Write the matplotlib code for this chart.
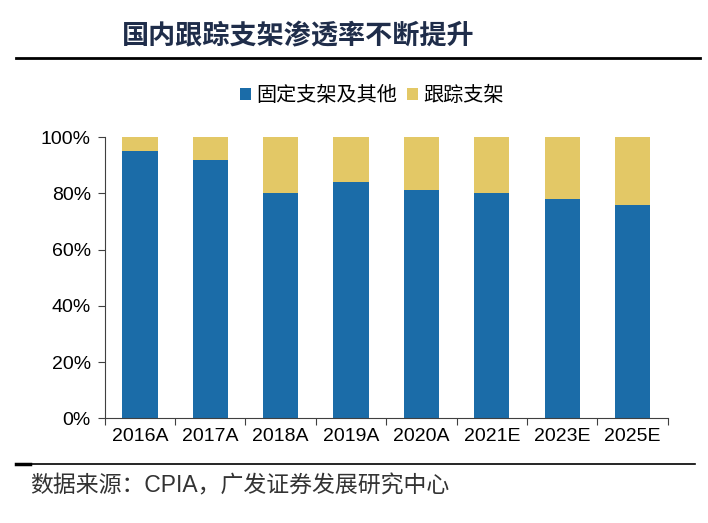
import matplotlib.pyplot as plt
import matplotlib.lines as mlines
from matplotlib.ticker import FuncFormatter

plt.rcParams['font.family'] = ['Liberation Sans', 'Noto Sans CJK SC', 'DejaVu Sans']

years = ['2016A', '2017A', '2018A', '2019A', '2020A', '2021E', '2023E', '2025E']
fixed_share = [0.95, 0.92, 0.80, 0.84, 0.81, 0.80, 0.78, 0.76]   # 固定支架及其他
tracking_share = [1 - v for v in fixed_share]                   # 跟踪支架

blue = '#1B6CA8'
yellow = '#E3C866'
fams = ['Liberation Sans', 'Noto Sans CJK SC', 'DejaVu Sans']

fig = plt.figure(figsize=(7.08, 5.23), dpi=100)
ax = fig.add_axes([0.148, 0.2, 0.795, 0.538])

x = range(len(years))
ax.bar(x, fixed_share, width=0.5, color=blue, label='固定支架及其他')
ax.bar(x, tracking_share, width=0.5, bottom=fixed_share, color=yellow, label='跟踪支架')

ax.set_ylim(0, 1)
ax.set_xlim(-0.5, len(years) - 0.5)
ax.set_yticks([0, 0.2, 0.4, 0.6, 0.8, 1.0])
ax.yaxis.set_major_formatter(FuncFormatter(lambda v, p: f'{v*100:.0f}%'))

# category labels centred, tick marks on the boundaries
ax.set_xticks([i - 0.5 for i in range(len(years) + 1)])
ax.set_xticklabels([])
ax.set_xticks(list(x), minor=True)
ax.set_xticklabels(years, minor=True)
ax.tick_params(axis='x', which='minor', length=0, labelsize=14, pad=7)
ax.tick_params(axis='x', which='major', length=5, color='#404040')
ax.tick_params(axis='y', length=5, labelsize=14, color='#404040', pad=5)

for s in ['top', 'right']:
    ax.spines[s].set_visible(False)
for s in ['left', 'bottom']:
    ax.spines[s].set_color('#404040')

leg = fig.legend(loc='center', bbox_to_anchor=(0.525, 0.817), ncol=2, frameon=False,
                 prop={'family': fams, 'size': 14.5}, handlelength=0.55, handleheight=0.55,
                 handletextpad=0.25, columnspacing=0.5)

# title and rules
fig.text(0.172, 0.928, '国内跟踪支架渗透率不断提升', family=fams, fontsize=19.5,
         fontweight='bold', color='#1F2D4A', va='center', ha='left')
fig.add_artist(mlines.Line2D([0.023, 0.988], [0.889, 0.889], color='black', lw=2))
fig.add_artist(mlines.Line2D([0.023, 0.982], [0.113, 0.113], color='black', lw=1.2))
fig.add_artist(mlines.Line2D([0.023, 0.043], [0.113, 0.113], color='black', lw=2.5))

fig.text(0.042, 0.071, '数据来源：CPIA，广发证券发展研究中心', family=fams, fontsize=16.5,
         color='#333333', va='center', ha='left')

fig.savefig('out.png', dpi=100)
